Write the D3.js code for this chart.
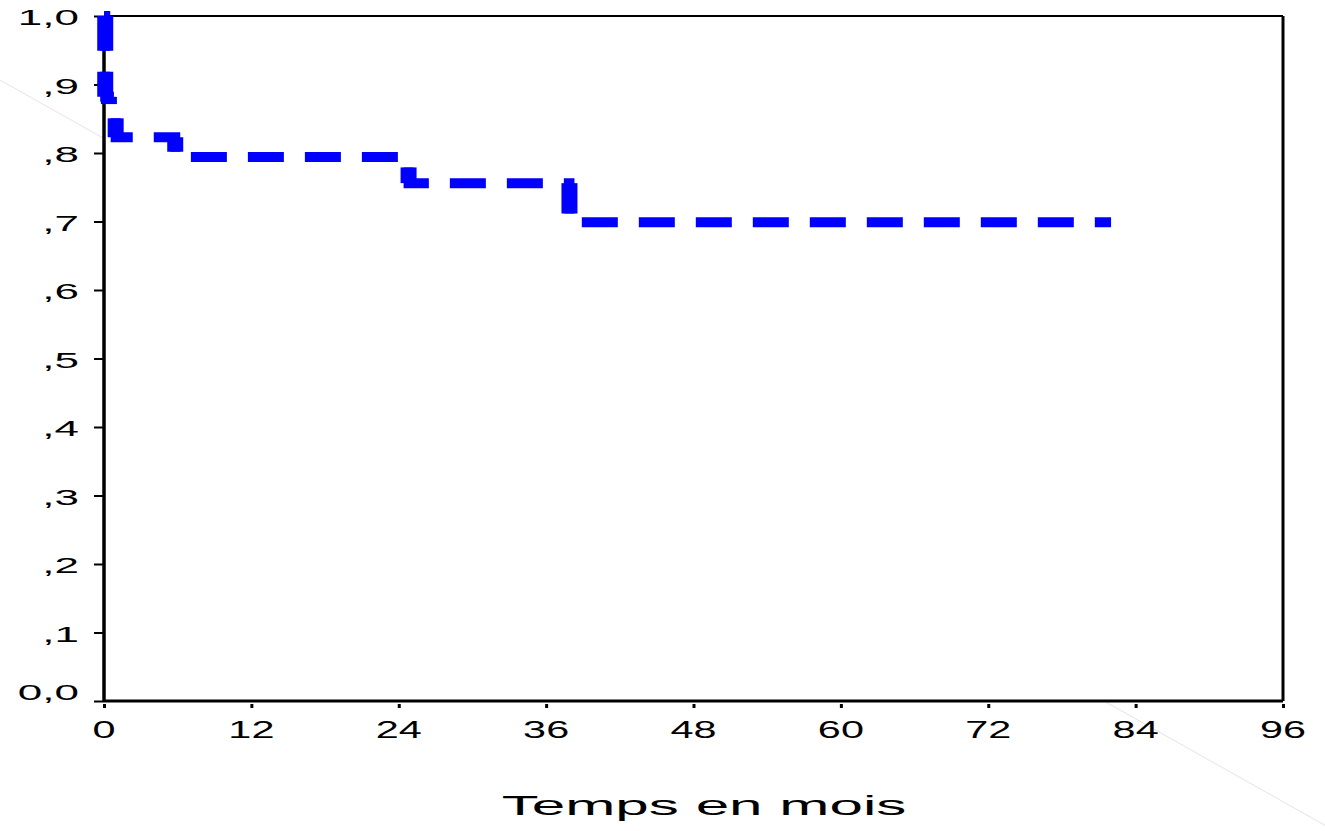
<!DOCTYPE html>
<html>
<head>
<meta charset="utf-8">
<script src="https://cdn.jsdelivr.net/npm/d3@7"></script>
<style>
  body { margin: 0; background: #fff; }
  text { font-family: "Liberation Sans", Arial, sans-serif; fill: #000; }
</style>
</head>
<body>
<div id="chart"></div>
<script>
// Kaplan-Meier style survival curve

// data
const times = [0, 0.1, 0.4, 0.95, 5.8, 24.8, 37.9, 82];
const survival = [1.0, 0.882, 0.853, 0.823, 0.794, 0.756, 0.699, 0.699];
const xTicks = [0, 12, 24, 36, 48, 60, 72, 84, 96];
const yTicks = [0, 0.1, 0.2, 0.3, 0.4, 0.5, 0.6, 0.7, 0.8, 0.9, 1.0];
const yTickLabels = ["0,0", ",1", ",2", ",3", ",4", ",5", ",6", ",7", ",8", ",9", "1,0"];
const xTitle = "Temps en mois";

const W = 1325, H = 831;
const margin = {top: 16, right: 42, bottom: 130, left: 104};

const svg = d3.select("#chart").append("svg")
    .attr("width", W)
    .attr("height", H);

const x = d3.scaleLinear().domain([0, 96]).range([margin.left, W - margin.right]);
const y = d3.scaleLinear().domain([0, 1]).range([H - margin.bottom, margin.top]);

// faint diagonal line behind the plot area
svg.append("line")
    .attr("x1", 0).attr("y1", 80)
    .attr("x2", W).attr("y2", 80 + W * 0.5625)
    .attr("stroke", "#e4e4e4")
    .attr("stroke-width", 1);

// plot background
svg.append("rect")
    .attr("x", x(0)).attr("y", y(1))
    .attr("width", x(96) - x(0))
    .attr("height", y(0) - y(1))
    .attr("fill", "#fff");

// frame: top and right
svg.append("line")
    .attr("x1", x(0)).attr("x2", x(96))
    .attr("y1", y(1)).attr("y2", y(1))
    .attr("stroke", "#000").attr("stroke-width", 2);
svg.append("line")
    .attr("x1", x(96)).attr("x2", x(96))
    .attr("y1", y(1)).attr("y2", y(0))
    .attr("stroke", "#000").attr("stroke-width", 3);

// axes
const xAxis = svg.append("g")
    .attr("transform", "translate(0," + y(0) + ")")
    .call(d3.axisBottom(x).tickValues(xTicks).tickSize(7).tickFormat(""));
xAxis.select(".domain").attr("stroke-width", 3).attr("d", "M" + x(0) + ",0H" + x(96));
xAxis.selectAll(".tick line").attr("stroke-width", 3).attr("y1", 3);

const yAxis = svg.append("g")
    .attr("transform", "translate(" + x(0) + ",0)")
    .call(d3.axisLeft(y).tickValues(yTicks).tickSize(10).tickFormat(""));
yAxis.select(".domain").attr("stroke-width", 3.5).attr("d", "M0," + y(1) + "V" + y(0));
yAxis.selectAll(".tick line").attr("stroke-width", 2);

// stretched tick labels
svg.selectAll(".xlab")
    .data(xTicks)
    .enter().append("text")
    .attr("class", "xlab")
    .attr("text-anchor", "middle")
    .attr("font-size", 23)
    .attr("transform", d => "translate(" + x(d) + "," + (y(0) + 37) + ") scale(1.8,1)")
    .text(d => d);

svg.selectAll(".ylab")
    .data(yTicks)
    .enter().append("text")
    .attr("class", "ylab")
    .attr("text-anchor", "end")
    .attr("font-size", 22)
    .attr("transform", (d, i) => "translate(79," + (d === 0 ? y(d) - 1 : y(d) + 9) + ") scale(2.0,1)")
    .text((d, i) => yTickLabels[i]);

svg.append("text")
    .attr("text-anchor", "middle")
    .attr("font-size", 28)
    .attr("transform", "translate(704,815) scale(2.15,1)")
    .text(xTitle);

// step curve
const pts = times.map((t, i) => [x(t), y(survival[i])]);
const line = d3.line().curve(d3.curveStepAfter);
const dash = "36,21";

svg.append("path")
    .attr("d", line(pts))
    .attr("fill", "none")
    .attr("stroke", "#0000ff")
    .attr("stroke-width", 10)
    .attr("stroke-dasharray", dash);

// vertical drops are drawn thicker, keeping the dash phase of the path
let len = 0;
const drops = [];
for (let i = 0; i < pts.length - 1; i++) {
    len += pts[i + 1][0] - pts[i][0];
    const dy = pts[i + 1][1] - pts[i][1];
    if (dy > 0) drops.push({x: pts[i + 1][0], y1: pts[i][1], y2: pts[i + 1][1], off: len});
    len += dy;
}
svg.selectAll(".drop")
    .data(drops)
    .enter().append("line")
    .attr("class", "drop")
    .attr("x1", d => d.x).attr("x2", d => d.x)
    .attr("y1", d => d.y1).attr("y2", d => d.y2)
    .attr("stroke", "#0000ff")
    .attr("stroke-width", 16)
    .attr("stroke-dasharray", dash)
    .attr("stroke-dashoffset", d => d.off);
</script>
</body>
</html>
